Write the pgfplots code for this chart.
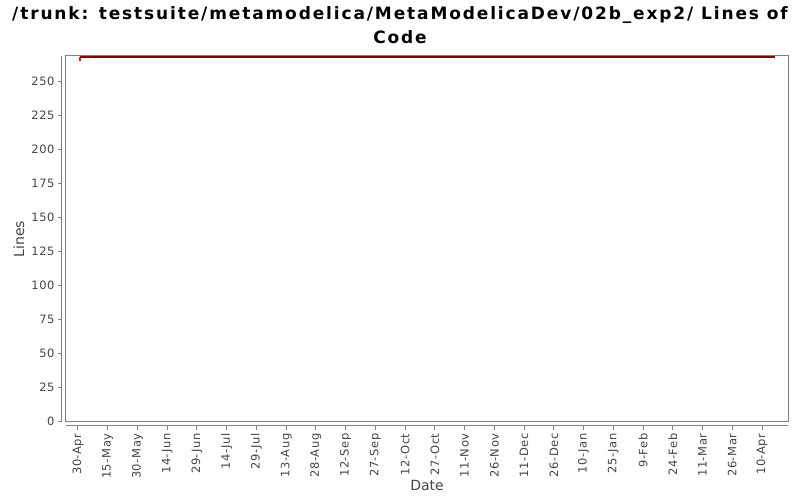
\documentclass[border=0pt]{standalone}
\usepackage{fontspec}
\setmainfont{DejaVu Sans}
\usepackage{pgfplots}
\pgfplotsset{compat=1.18}
\definecolor{boxgray}{RGB}{128,128,128}
\definecolor{labelgray}{RGB}{68,68,68}
\definecolor{locred}{RGB}{130,0,0}
\newcommand\tickfont{\fontsize{11.5}{13}\selectfont\addfontfeature{LetterSpace=5}}
\begin{document}
\begin{tikzpicture}
\useasboundingbox (0,0) rectangle (800pt,500pt);
\node[align=center, font=\bfseries\fontsize{17}{24}\selectfont\addfontfeature{LetterSpace=11}] at (400pt,475pt)
  {/trunk: testsuite/metamodelica/MetaModelicaDev/02b\_exp2/ Lines of\\Code};
\begin{axis}[
  at={(66pt,78pt)}, anchor=south west,
  scale only axis, width=722pt, height=366pt,
  xmin=-6.05, xmax=358.1, ymin=-0.5, ymax=268.6,
  clip=false,
  axis line style={draw=boxgray, line width=1pt},
  tick align=outside, tick pos=left, major tick length=4pt,
  every tick/.style={draw=boxgray, line width=1pt},
  x tick style={yshift=-4pt}, y tick style={xshift=-4pt},
  xticklabel shift=4pt, yticklabel shift=4pt,
  xtick={0,15,...,345},
  xticklabels={30-Apr,15-May,30-May,14-Jun,29-Jun,14-Jul,29-Jul,13-Aug,28-Aug,12-Sep,27-Sep,12-Oct,27-Oct,11-Nov,26-Nov,11-Dec,26-Dec,10-Jan,25-Jan,9-Feb,24-Feb,11-Mar,26-Mar,10-Apr},
  xticklabel style={rotate=90, anchor=east, font=\tickfont, text=labelgray},
  ytick={0,25,...,250},
  yticklabel style={font=\tickfont, text=labelgray},
  /pgf/number format/assume math mode=true,
  xlabel={Date}, ylabel={Lines},
  every axis x label/.style={at={(rel axis cs:0.5,0)}, yshift=-63pt, anchor=center, font=\fontsize{14}{16}\selectfont, text=labelgray},
  every axis y label/.style={at={(rel axis cs:0,0.5)}, xshift=-47pt, rotate=90, anchor=center, font=\fontsize{14}{16}\selectfont, text=labelgray},
]
\draw[boxgray, line width=1pt] ([yshift=-4pt]rel axis cs:0,0) -- ([yshift=-4pt]rel axis cs:1,0);
\draw[boxgray, line width=1pt] ([xshift=-4pt]rel axis cs:0,0) -- ([xshift=-4pt]rel axis cs:0,1);
\addplot[red, line width=1.5pt, no marks] coordinates {(1.1,265) (1.1,268)};
\addplot[locred, line width=1.5pt, no marks] coordinates {(1.1,268) (351.5,268)};
\end{axis}
\end{tikzpicture}
\end{document}
